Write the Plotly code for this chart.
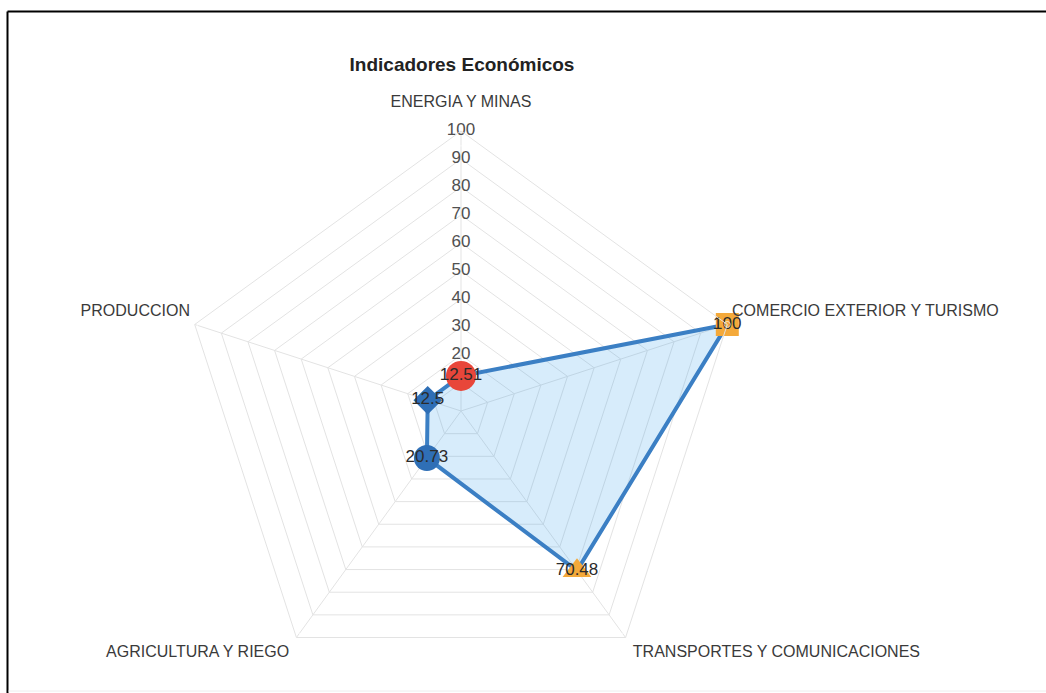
import plotly.graph_objects as go

# Indicator categories (clockwise from the top) and their scores
categories = [
    "ENERGIA Y MINAS",
    "COMERCIO EXTERIOR Y TURISMO",
    "TRANSPORTES Y COMUNICACIONES",
    "AGRICULTURA Y RIEGO",
    "PRODUCCION",
]
values = [12.51, 100, 70.48, 20.73, 12.5]

# Per-point marker styling
marker_symbols = ["circle", "square", "triangle-up", "circle", "diamond"]
marker_colors = ["#e8463a", "#f4a93a", "#f4a93a", "#2f6fb6", "#2f6fb6"]
marker_sizes = [30, 23, 25, 26, 22]

# Radial scale: grid rings every 10, labels from 20 upward
radial_grid = [10, 20, 30, 40, 50, 60, 70, 80, 90, 100]
radial_labels = [20, 30, 40, 50, 60, 70, 80, 90, 100]
radial_max = 100

# Category label placement around the outer ring
label_positions = ["top center", "top right", "bottom right", "bottom left", "top left"]
label_offsets = [30, 6, 10, 10, 6]

FONT = "Liberation Sans, Arial, sans-serif"
W, H = 1046, 693

fig = go.Figure()

# Radial scale labels along the top spoke
fig.add_trace(go.Scatterpolar(
    r=radial_labels,
    theta=[categories[0]] * len(radial_labels),
    mode="text",
    text=[str(t) for t in radial_labels],
    textposition="middle center",
    textfont=dict(family=FONT, size=17, color="#505050"),
    hoverinfo="skip",
    showlegend=False,
))

# Filled polygon of the series
fig.add_trace(go.Scatterpolar(
    r=values + values[:1],
    theta=categories + categories[:1],
    mode="lines",
    fill="toself",
    fillcolor="rgba(54,162,235,0.2)",
    line=dict(color="#3b7fc4", width=4),
    hoverinfo="skip",
    showlegend=False,
))

# Point markers with value labels
fig.add_trace(go.Scatterpolar(
    r=values,
    theta=categories,
    mode="markers+text",
    marker=dict(symbol=marker_symbols, color=marker_colors, size=marker_sizes,
                opacity=1, line=dict(width=0)),
    text=[f"{v:g}" for v in values],
    textposition="middle center",
    textfont=dict(family=FONT, size=17, color="#2b2b2b"),
    showlegend=False,
))

# Category names just outside the outer ring
fig.add_trace(go.Scatterpolar(
    r=[radial_max] * len(categories),
    theta=categories,
    mode="markers+text",
    marker=dict(size=label_offsets, color="rgba(0,0,0,0)"),
    text=categories,
    textposition=label_positions,
    textfont=dict(family=FONT, size=16, color="#3a3a3a"),
    hoverinfo="skip",
    cliponaxis=False,
    showlegend=False,
))

fig.update_layout(
    width=W,
    height=H,
    margin=dict(l=0, r=0, t=0, b=0),
    paper_bgcolor="white",
    plot_bgcolor="white",
    font=dict(family=FONT, color="#444444"),
    title=dict(
        text="<b>Indicadores Económicos</b>",
        x=462 / W, y=1 - 64 / H, xanchor="center", yanchor="middle",
        font=dict(family=FONT, size=19, color="#222222"),
    ),
    polar=dict(
        domain=dict(x=[181 / W, 741 / W], y=[1 - 691 / H, 1 - 131 / H]),
        bgcolor="rgba(0,0,0,0)",
        gridshape="linear",
        radialaxis=dict(
            range=[0, radial_max], tickvals=radial_grid, showticklabels=False,
            ticks="", showline=False, gridcolor="#e3e3e3", gridwidth=1, angle=90,
        ),
        angularaxis=dict(
            rotation=90, direction="clockwise", showticklabels=False, ticks="",
            showline=True, linecolor="#e3e3e3", linewidth=1,
            gridcolor="#e3e3e3", gridwidth=1,
        ),
    ),
    shapes=[
        dict(type="line", xref="paper", yref="paper",
             x0=7.5 / W, x1=1.0, y0=1 - 11.5 / H, y1=1 - 11.5 / H,
             line=dict(color="#000000", width=2)),
        dict(type="line", xref="paper", yref="paper",
             x0=7.5 / W, x1=7.5 / W, y0=0, y1=1 - 11.5 / H,
             line=dict(color="#000000", width=2)),
        dict(type="line", xref="paper", yref="paper",
             x0=8.5 / W, x1=1.0, y0=1 - 691 / H, y1=1 - 691 / H,
             line=dict(color="#eeeeee", width=1)),
    ],
)

fig.write_html("out.html")
